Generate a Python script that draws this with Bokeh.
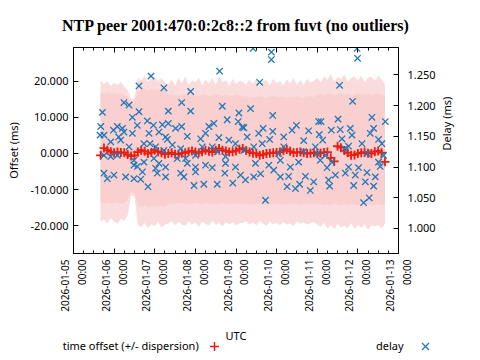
import math
from datetime import datetime, timedelta, timezone

from bokeh.plotting import figure
from bokeh.layouts import column
from bokeh.models import (Range1d, LinearAxis, DatetimeAxis, FixedTicker,
                          DatetimeTickFormatter, NumeralTickFormatter,
                          ColumnDataSource, Div)
from bokeh.embed import file_html
from bokeh.resources import INLINE

# ---------------- texts ----------------
title_text = "NTP peer 2001:470:0:2c8::2 from fuvt (no outliers)"
x_label = "UTC"
left_label = "Offset (ms)"
right_label = "Delay (ms)"
offset_legend = "time offset (+/- dispersion)"
delay_legend = "delay"

# ---------------- axes ----------------
x_tick_days = ["2026-01-05", "2026-01-06", "2026-01-07", "2026-01-08", "2026-01-09",
               "2026-01-10", "2026-01-11", "2026-01-12", "2026-01-13"]
offset_ticks = [-20.0, -10.0, 0.0, 10.0, 20.0]
delay_ticks = [1.000, 1.050, 1.100, 1.150, 1.200, 1.250]
offset_limits = [-27.6, 29.25]
delay_limits = [0.9593, 1.2946]

# ---------------- offset series (hours since 2026-01-05 00:00 UTC) ----------------
sample_hours = [16, 18, 20, 22, 24, 26, 28, 30, 32, 34,
                36, 38, 40, 42, 44, 46, 48, 50, 52, 54,
                56, 58, 60, 62, 64, 66, 68, 70, 72, 74,
                76, 78, 80, 82, 84, 86, 88, 90, 92, 94,
                96, 98, 100, 102, 104, 106, 108, 110, 112, 114,
                116, 118, 120, 122, 124, 126, 128, 130, 132, 134,
                136, 138, 140, 142, 144, 146, 148, 150, 152, 154,
                156, 158, 160, 162, 164, 166, 168, 170, 172, 174,
                176, 178, 180, 182, 184]
offset_ms = [-0.5, 1.5, 0.9, 0.5, 0.2, 0.4, 0.3, 0.2, -0.3, -0.7,
             -0.5, 0.4, 0.9, 0.6, 0.0, 0.3, 0.9, 0.5, 0.2, -0.2,
             0.0, 0.2, -0.2, -0.2, 0.1, 0.2, 0.5, 0.7, 0.4, 0.2,
             0.5, 0.9, 0.6, 0.4, 0.9, 1.4, 0.9, 0.7, 0.4, 0.5,
             0.7, 1.2, 1.4, 0.8, 0.4, 0.1, 0.0, -0.5, -0.3, 0.0,
             0.1, 0.2, 0.3, 0.4, 0.8, 1.1, 0.6, 0.2, 0.3, 0.4,
             0.2, 0.0, 0.1, 0.2, 0.0, 0.1, 0.3, 0.4, -1.2, -2.2,
             2.0, 1.6, 0.8, 0.2, -0.5, -0.4, 0.0, 0.2, 0.4, 0.1,
             0.0, 0.5, 0.7, 0.2, -2.3]
# dense part of the dispersion band
band_hi = [16.8, 16.5, 16.9, 16.4, 16.7, 16.3, 16.6, 16.2, 15.5, 14.0,
           14.3, 17.2, 17.6, 17.8, 17.3, 17.9, 17.5, 17.7, 17.4, 17.6,
           16.5, 16.0, 16.2, 15.8, 16.1, 16.4, 15.9, 16.2, 16.0, 15.7,
           16.3, 16.1, 15.8, 16.0, 16.4, 16.1, 15.9, 16.2, 16.0, 15.8,
           16.3, 16.1, 15.6, 15.9, 15.4, 15.7, 15.5, 15.8, 15.6, 15.3,
           15.7, 15.9, 15.5, 15.6, 15.8, 15.4, 15.7, 15.5, 15.9, 15.6,
           15.3, 15.7, 15.8, 15.5, 16.2, 16.5, 16.0, 16.4, 16.6, 16.1,
           16.3, 16.7, 16.2, 16.5, 16.0, 16.4, 16.6, 16.2, 16.3, 16.5,
           16.1, 16.4, 16.6, 16.2, 16.0]
band_lo = [-13.6, -13.9, -13.5, -13.8, -13.7, -13.4, -13.9, -13.6, -12.8, -10.6,
           -10.9, -14.5, -14.8, -14.3, -14.9, -14.6, -14.4, -14.7, -14.5, -14.8,
           -13.9, -13.7, -14.0, -13.6, -13.8, -14.1, -13.7, -13.9, -13.5, -13.8,
           -14.0, -13.6, -13.9, -13.7, -14.1, -13.8, -13.6, -13.9, -14.0, -13.7,
           -13.8, -13.9, -14.0, -13.8, -14.2, -13.9, -14.1, -13.7, -14.0, -14.3,
           -13.9, -14.1, -13.8, -14.0, -14.2, -13.9, -14.1, -13.8, -14.0, -14.2,
           -13.9, -14.1, -14.0, -13.8, -14.1, -13.9, -14.3, -14.0, -14.2, -13.8,
           -14.1, -14.4, -14.0, -14.2, -13.9, -14.1, -14.3, -14.0, -14.2, -13.9,
           -14.1, -14.3, -14.0, -14.2, -14.5]
# outer (sparse) reach of the dispersion band
spike_hi = [20.2, 19.1, 20.0, 18.6, 19.5, 18.9, 19.8, 18.4, 17.5, 15.0,
            15.3, 21.0, 20.1, 21.5, 19.8, 20.7, 21.2, 20.0, 20.9, 19.6,
            19.2, 20.5, 18.7, 20.9, 19.4, 21.3, 18.9, 20.2, 19.6, 21.0,
            18.8, 20.4, 19.3, 20.8, 19.0, 21.2, 19.7, 20.3, 18.6, 20.6,
            19.1, 20.0, 19.8, 18.9, 20.4, 19.2, 20.7, 18.6, 19.9, 20.3,
            18.8, 20.6, 19.4, 20.1, 18.7, 20.5, 19.3, 20.8, 19.0, 20.2,
            18.9, 20.6, 19.5, 20.0, 20.9, 19.6, 21.4, 20.2, 22.0, 19.8,
            21.1, 20.5, 21.7, 19.9, 20.8, 21.3, 20.0, 21.6, 19.7, 20.9,
            21.2, 20.1, 21.5, 20.4, 19.0]
spike_lo = [-19.0, -18.2, -19.4, -17.9, -18.8, -19.3, -18.0, -18.7, -17.0, -11.5,
            -11.8, -19.8, -20.3, -19.2, -20.6, -19.5, -20.1, -19.0, -20.4, -19.7,
            -19.3, -18.6, -19.8, -18.9, -19.5, -20.0, -18.7, -19.6, -19.1, -20.2,
            -18.8, -19.4, -19.9, -18.5, -19.7, -19.2, -20.1, -18.9, -19.5, -19.0,
            -19.8, -19.3, -19.1, -18.7, -19.6, -19.0, -19.9, -18.6, -19.4, -20.0,
            -18.8, -19.5, -19.2, -19.8, -18.9, -19.6, -19.3, -20.1, -18.7, -19.4,
            -19.0, -19.7, -19.2, -18.9, -19.6, -20.3, -19.1, -20.8, -19.7, -21.0,
            -19.4, -20.5, -19.9, -20.6, -19.2, -20.9, -19.8, -20.4, -19.5, -21.1,
            -19.9, -20.2, -19.6, -20.7, -19.4]

# ---------------- delay series ----------------
delay_hours = [45.8, 38.7, 53.4, 29.8, 32.8, 17.1, 38.7, 56.0, 34.8, 16.1,
               18.0, 15.7, 25.9, 28.9, 23.6, 34.8, 43.6, 47.2, 52.5, 37.7,
               27.9, 22.0, 29.8, 44.6, 50.5, 54.4, 41.6, 45.2, 32.8, 48.5,
               53.4, 18.0, 22.0, 25.9, 35.7, 47.5, 50.5, 35.7, 37.7, 41.6,
               48.5, 54.4, 18.0, 23.9, 20.0, 30.8, 35.7, 40.7, 39.7, 49.5,
               54.4, 44.0, 26.7,
               86.3, 69.2, 63.9, 87.9, 69.2, 97.7, 56.0, 60.3, 63.9, 82.9,
               80.0, 90.8, 97.3, 100.6, 55.4, 67.2, 75.1, 78.0, 85.9, 91.8,
               95.7, 58.4, 63.3, 76.1, 82.0, 72.1, 66.2, 61.3, 89.8, 84.9,
               78.0, 82.0, 89.8, 72.1, 67.2, 63.3, 65.2, 72.1, 95.7, 98.7,
               89.4, 71.2, 77.0, 84.9, 94.1,
               106.1, 116.9, 116.9, 110.0, 104.6, 117.7, 99.7, 102.6, 109.4, 112.0,
               117.7, 115.9, 124.2, 129.1, 131.7, 138.9, 136.0, 144.8, 111.5, 106.5,
               100.6, 124.2, 142.9, 121.2, 136.0, 107.5, 115.4, 122.2, 128.1, 133.0,
               118.3, 110.5, 106.5, 101.6, 122.2, 127.1, 137.0, 141.9, 126.2, 133.6,
               131.1, 139.9, 113.4,
               167.5, 167.8, 157.2, 164.9, 146.2, 156.3, 176.3, 184.2, 145.2, 152.3,
               157.6, 163.5, 177.3, 175.3, 147.2, 158.6, 164.5, 180.2, 182.2, 170.4,
               162.5, 143.9, 148.8, 160.2, 173.4, 183.2, 145.8, 152.7, 180.2, 181.2,
               149.8, 162.5, 168.4, 160.6, 154.7, 166.5, 173.4, 178.3, 150.7, 151.3,
               165.5, 172.4, 177.3, 174.7, 171.4]
delay_ms = [1.248, 1.232, 1.229, 1.205, 1.201, 1.189, 1.190, 1.191, 1.181, 1.166,
            1.152, 1.152, 1.166, 1.163, 1.160, 1.155, 1.175, 1.168, 1.169, 1.168,
            1.144, 1.141, 1.157, 1.155, 1.157, 1.149, 1.138, 1.138, 1.133, 1.133,
            1.127, 1.119, 1.117, 1.119, 1.111, 1.114, 1.106, 1.103, 1.101, 1.108,
            1.098, 1.100, 1.090, 1.087, 1.081, 1.084, 1.081, 1.092, 1.080, 1.090,
            1.084, 1.068, 1.149,
            1.256, 1.223, 1.205, 1.199, 1.191, 1.188, 1.171, 1.163, 1.166, 1.171,
            1.166, 1.177, 1.174, 1.164, 1.145, 1.150, 1.146, 1.155, 1.148, 1.144,
            1.138, 1.136, 1.130, 1.133, 1.133, 1.119, 1.114, 1.114, 1.117, 1.125,
            1.103, 1.099, 1.106, 1.100, 1.106, 1.090, 1.084, 1.092, 1.100, 1.087,
            1.090, 1.070, 1.072, 1.072, 1.074,
            1.293, 1.287, 1.275, 1.238, 1.195, 1.184, 1.165, 1.149, 1.155, 1.163,
            1.158, 1.145, 1.149, 1.160, 1.168, 1.159, 1.143, 1.174, 1.138, 1.133,
            1.127, 1.133, 1.133, 1.122, 1.125, 1.106, 1.103, 1.111, 1.100, 1.108,
            1.095, 1.089, 1.084, 1.079, 1.084, 1.085, 1.085, 1.076, 1.068, 1.072,
            1.065, 1.062, 1.046,
            1.293, 1.277, 1.233, 1.207, 1.174, 1.178, 1.181, 1.174, 1.153, 1.160,
            1.161, 1.163, 1.163, 1.155, 1.144, 1.146, 1.152, 1.145, 1.138, 1.138,
            1.134, 1.122, 1.119, 1.130, 1.122, 1.119, 1.111, 1.108, 1.108, 1.101,
            1.099, 1.100, 1.099, 1.090, 1.087, 1.087, 1.091, 1.084, 1.079, 1.069,
            1.070, 1.076, 1.069, 1.050, 1.042]

assert len(sample_hours) == len(offset_ms) == len(band_hi) == len(band_lo) == len(spike_hi) == len(spike_lo)
assert len(delay_hours) == len(delay_ms)

# ---------------- helpers ----------------
day0 = datetime.strptime(x_tick_days[0], "%Y-%m-%d").replace(tzinfo=timezone.utc)


def to_ms(h):
    return (day0 + timedelta(hours=h)).timestamp() * 1000.0


def day_ms(s):
    return datetime.strptime(s, "%Y-%m-%d").replace(tzinfo=timezone.utc).timestamp() * 1000.0


major_ms = [day_ms(d) for d in x_tick_days]
minor_ms = [m + k * 6 * 3600 * 1000.0 for m in major_ms[:-1] for k in (1, 2, 3)]

band_src = ColumnDataSource(dict(
    t=[to_ms(h) for h in sample_hours], off=offset_ms,
    hi=band_hi, lo=band_lo, shi=spike_hi, slo=spike_lo))
delay_src = ColumnDataSource(dict(t=[to_ms(h) for h in delay_hours], d=delay_ms))

FONT = "Noto Sans"
RED = "#ee1c10"
BLUE = "#1f78b8"

p = figure(width=464, height=347, x_axis_type=None, y_axis_type=None,
           x_range=Range1d(major_ms[0], major_ms[-1]),
           y_range=Range1d(*offset_limits),
           output_backend="svg", toolbar_location=None,
           min_border_left=73, min_border_right=66, min_border_top=47, min_border_bottom=94,
           title=title_text)
p.extra_y_ranges = {"delay": Range1d(*delay_limits)}
p.outline_line_color = "black"
p.outline_line_alpha = 1.0
p.outline_line_width = 1
p.background_fill_color = "white"
p.border_fill_color = "white"

p.title.text_font = "Liberation Serif"
p.title.text_font_size = "16px"
p.title.text_font_style = "bold"
p.title.text_color = "black"
p.title.align = "center"
p.title.standoff = 28


def style_axis(ax, label_size):
    ax.axis_line_color = "black"
    ax.major_tick_line_color = "black"
    ax.minor_tick_line_color = "black"
    ax.major_tick_in = 5
    ax.major_tick_out = 0
    ax.minor_tick_in = 3
    ax.minor_tick_out = 0
    ax.major_label_text_font = FONT
    ax.major_label_text_font_size = label_size
    ax.major_label_text_color = "black"
    ax.axis_label_text_font = FONT
    ax.axis_label_text_font_size = "11px"
    ax.axis_label_text_font_style = "normal"
    ax.axis_label_text_color = "black"


ax_left = LinearAxis(ticker=FixedTicker(ticks=offset_ticks),
                     formatter=NumeralTickFormatter(format="0.000"),
                     axis_label=left_label)
style_axis(ax_left, "11px")
ax_left.major_label_standoff = 5
ax_left.axis_label_standoff = 7
p.add_layout(ax_left, "left")

ax_right = LinearAxis(y_range_name="delay", ticker=FixedTicker(ticks=delay_ticks),
                      formatter=NumeralTickFormatter(format="0.000"),
                      axis_label=right_label)
style_axis(ax_right, "11px")
ax_right.major_label_standoff = 9
ax_right.axis_label_standoff = 8
if "axis_label_orientation" in ax_right.properties():
    ax_right.axis_label_orientation = math.pi / 2
p.add_layout(ax_right, "right")

fmt_str = "%Y-%m-%d\n%H:%M"
xfmt = DatetimeTickFormatter(microseconds=fmt_str, milliseconds=fmt_str, seconds=fmt_str,
                             minsec=fmt_str, minutes=fmt_str, hourmin=fmt_str, hours=fmt_str,
                             days=fmt_str, months=fmt_str, years=fmt_str)
ax_below = DatetimeAxis(ticker=FixedTicker(ticks=major_ms, minor_ticks=minor_ms),
                        formatter=xfmt, axis_label=x_label)
style_axis(ax_below, "10px")
ax_below.major_label_orientation = math.pi / 2
ax_below.major_label_standoff = 6
ax_below.axis_label_standoff = 13
p.add_layout(ax_below, "below")

# mirrored ticks on the top edge (gnuplot style), no labels there
ax_above = DatetimeAxis(ticker=FixedTicker(ticks=major_ms, minor_ticks=minor_ms), formatter=xfmt)
style_axis(ax_above, "1px")
ax_above.major_label_text_color = None
ax_above.major_label_standoff = 0
p.add_layout(ax_above, "above")

# ---------------- glyphs ----------------
p.varea(x="t", y1="slo", y2="shi", source=band_src, fill_color="#fbdcdc")
p.varea(x="t", y1="lo", y2="hi", source=band_src, fill_color="#f9cfcf")
p.scatter(x="t", y="off", source=band_src, marker="cross", size=9,
          line_color=RED, line_width=1.8)
p.scatter(x="t", y="d", source=delay_src, marker="x", size=9,
          line_color=BLUE, line_width=1.3, y_range_name="delay")

# ---------------- key row (gnuplot style: text, then its sample on the right) ----------------
key_html = (
    f'<div style="position:relative;width:464px;height:16px;font-family:\'{FONT}\';'
    f'font-size:11px;color:#000;line-height:16px;white-space:nowrap">'
    f'<span style="position:absolute;left:62.7px;top:0">{offset_legend}</span>'
    f'<svg style="position:absolute;left:209.5px;top:3.5px" width="9" height="9">'
    f'<path d="M0 4.5H9M4.5 0V9" stroke="{RED}" stroke-width="1.5" fill="none"/></svg>'
    f'<span style="position:absolute;left:376px;top:0">{delay_legend}</span>'
    f'<svg style="position:absolute;left:420.5px;top:3.5px" width="9" height="9">'
    f'<path d="M1 1L8 8M8 1L1 8" stroke="{BLUE}" stroke-width="1.3" fill="none"/></svg>'
    f'</div>'
)
key = Div(text=key_html, width=464, height=16, margin=(-9, 0, 0, 0))

layout = column(p, key, spacing=0)
open("out.html", "w").write(file_html(layout, INLINE))
